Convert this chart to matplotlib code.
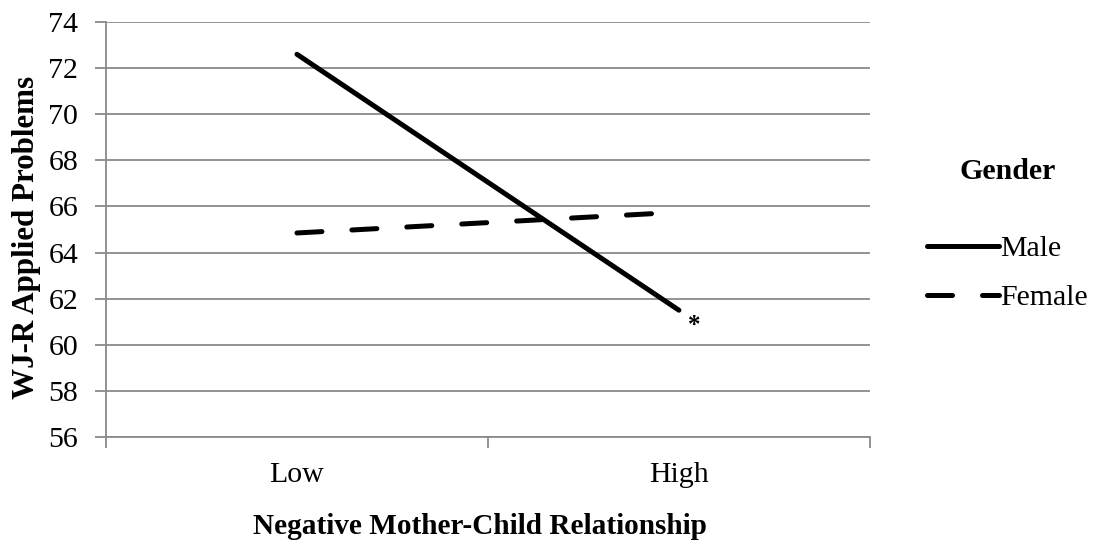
import matplotlib
matplotlib.use("Agg")
import matplotlib.pyplot as plt
from matplotlib.lines import Line2D

categories = ["Low", "High"]
male = [72.6, 61.5]
female = [64.85, 65.75]
series_names = ["Male", "Female"]
y_ticks = [56, 58, 60, 62, 64, 66, 68, 70, 72, 74]

plt.rcParams["font.family"] = ["Liberation Serif", "DejaVu Serif"]

fig = plt.figure(figsize=(10.96, 5.46), dpi=100)
ax = fig.add_axes([0.0967, 0.1996, 0.697, 0.7601])

grid_col = "#8a8a8a"
fs = 21.5
x = [0.5, 1.5]
lw = 3.6
dash = (0, (5.0, 6.0))
ax.plot(x, male, color="black", lw=lw, solid_capstyle="round", zorder=3)
ax.plot(x, female, color="black", lw=lw, linestyle=dash,
        dash_capstyle="round", zorder=3)

ax.annotate("*", xy=(x[1], male[1]), xytext=(11, -11), textcoords="offset points",
            ha="center", va="center", fontsize=18, fontweight="bold")

ax.set_xlim(0, 2)
ax.set_ylim(56, 74)
ax.set_yticks(y_ticks)
ax.set_xticks([0, 1, 2])
ax.set_xticklabels([])
ax.set_xticks(x, minor=True)
ax.set_xticklabels(categories, minor=True)
ax.tick_params(axis="x", which="minor", length=0, pad=18, labelsize=fs)
ax.tick_params(axis="x", which="major", length=8, width=1.3, color=grid_col, direction="out")
ax.tick_params(axis="y", length=8, width=1.3, color=grid_col, labelsize=fs, pad=12)
ax.yaxis.grid(True, color=grid_col, lw=1.3)
ax.set_axisbelow(True)
for s in ["top", "right"]:
    ax.spines[s].set_visible(False)
for s in ["left", "bottom"]:
    ax.spines[s].set_color(grid_col)
    ax.spines[s].set_linewidth(1.3)

ax.set_ylabel("WJ-R Applied Problems", fontsize=22.3, fontweight="bold",
              labelpad=5, y=0.482)
ax.set_xlabel("Negative Mother-Child Relationship", fontsize=21.1, fontweight="bold",
              labelpad=18, x=0.489)

handles = [
    Line2D([], [], color="black", lw=lw, solid_capstyle="round"),
    Line2D([], [], color="black", lw=lw, linestyle=dash, dash_capstyle="round"),
]
leg = ax.legend(handles, series_names, title="Gender", loc="center left",
                bbox_to_anchor=(0.835, 0.57), bbox_transform=fig.transFigure,
                frameon=False, fontsize=fs, handlelength=2.4, handletextpad=0.05,
                labelspacing=0.75, borderaxespad=0)
leg.get_title().set_fontweight("bold")
leg.get_title().set_fontsize(fs)
leg._legend_box.sep = 36

fig.savefig("out.png", dpi=100)
